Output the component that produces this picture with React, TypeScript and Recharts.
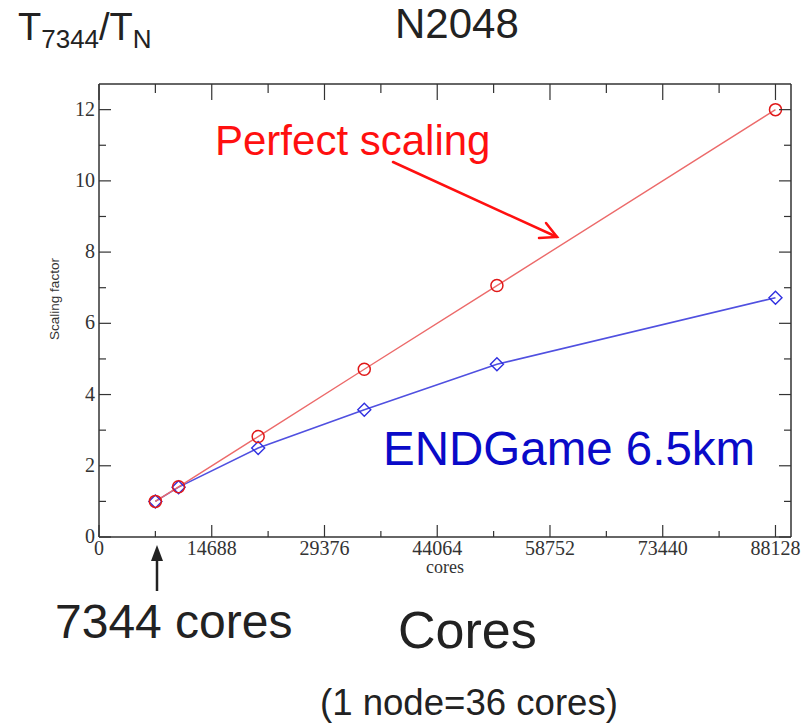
import React from "react";
import { LineChart, Line, XAxis, YAxis } from "recharts";

// cores vs scaling factor (T7344 / TN), N2048 run
const cores = [7344, 10368, 20736, 34560, 51840, 88128];
const perfect = [1, 1.41, 2.82, 4.71, 7.06, 12];
const endgame = [1, 1.4, 2.5, 3.57, 4.85, 6.72];

const xMajor = [0, 14688, 29376, 44064, 58752, 73440, 88128];
const xMinor = [7344, 22032, 36720, 51408, 66096, 80784];
const yMajor = [0, 2, 4, 6, 8, 10, 12];
const yMinor = [1, 3, 5, 7, 9, 11];

const data = cores.map((c, i) => ({ cores: c, perfect: perfect[i], endgame: endgame[i] }));

const xTicks = [...xMajor, ...xMinor].sort((a, b) => a - b);
const yTicks = [...yMajor, ...yMinor].sort((a, b) => a - b);

const X_DOMAIN = [0, 90150];
const Y_DOMAIN = [0, 12.72];
const FRAME = "#333";
const FONT = { fontFamily: "Liberation Serif", fontSize: 20, fill: "#333" };

// ticks point into the plot, like the original xmgrace frame
const BottomTick = (p: any) => {
  const v = p.payload.value;
  const major = xMajor.includes(v);
  return (
    <g>
      <line x1={p.x} x2={p.x} y1={p.y} y2={p.y - (major ? 12 : 6)} stroke={FRAME} strokeWidth={1.2} />
      {major && (
        <text x={p.x} y={p.y + 18} textAnchor="middle" {...FONT}>
          {v}
        </text>
      )}
    </g>
  );
};

const LeftTick = (p: any) => {
  const v = p.payload.value;
  const major = yMajor.includes(v);
  return (
    <g>
      <line x1={p.x} x2={p.x + (major ? 12 : 7)} y1={p.y} y2={p.y} stroke={FRAME} strokeWidth={1.2} />
      {major && (
        <text x={p.x - 4} y={p.y + 6} textAnchor="end" {...FONT}>
          {v}
        </text>
      )}
    </g>
  );
};

const TopTick = (p: any) => {
  const major = xMajor.includes(p.payload.value);
  return <line x1={p.x} x2={p.x} y1={p.y} y2={p.y + (major ? 16 : 9)} stroke={FRAME} strokeWidth={1.2} />;
};

const RightTick = (p: any) => {
  const major = yMajor.includes(p.payload.value);
  return <line x1={p.x} x2={p.x - (major ? 12 : 7)} y1={p.y} y2={p.y} stroke={FRAME} strokeWidth={1.2} />;
};

const Circle = (props: any) => {
  const { cx, cy, index } = props;
  return <circle key={"c" + index} cx={cx} cy={cy} r={6} fill="none" stroke="#e01818" strokeWidth={1.5} />;
};

const Diamond = (props: any) => {
  const { cx, cy, index } = props;
  const s = 6.5;
  return (
    <polygon
      key={"d" + index}
      points={`${cx},${cy - s} ${cx + s},${cy} ${cx},${cy + s} ${cx - s},${cy}`}
      fill="none"
      stroke="#3030e0"
      strokeWidth={1.4}
    />
  );
};

const axisLine = { stroke: FRAME, strokeWidth: 1.5 };

export default function App() {
  return (
    <div style={{ position: "absolute", left: 0, top: 0, width: 808, height: 723, background: "#fff" }}>
      <LineChart width={808} height={723} data={data} margin={{ top: 83, right: 16, left: 39, bottom: 146 }}>
        <XAxis
          xAxisId="x"
          dataKey="cores"
          type="number"
          domain={X_DOMAIN}
          allowDataOverflow
          ticks={xTicks}
          interval={0}
          height={40}
          tickSize={0}
          tickMargin={0}
          tick={BottomTick}
          axisLine={axisLine}
          tickLine={false}
          label={{
            value: "cores",
            position: "insideBottom",
            offset: 4,
            style: { fontFamily: "Liberation Serif", fontSize: 18, fill: "#333" },
          }}
        />
        <YAxis
          yAxisId="y"
          type="number"
          domain={Y_DOMAIN}
          allowDataOverflow
          ticks={yTicks}
          interval={0}
          width={60}
          tickSize={0}
          tickMargin={0}
          tick={LeftTick}
          axisLine={axisLine}
          tickLine={false}
        />
        <XAxis
          xAxisId="top"
          orientation="top"
          dataKey="cores"
          type="number"
          domain={X_DOMAIN}
          allowDataOverflow
          ticks={xTicks}
          interval={0}
          height={1}
          tickSize={0}
          tickMargin={0}
          tick={TopTick}
          axisLine={axisLine}
          tickLine={false}
        />
        <YAxis
          yAxisId="right"
          orientation="right"
          type="number"
          domain={Y_DOMAIN}
          allowDataOverflow
          ticks={yTicks}
          interval={0}
          width={1}
          tickSize={0}
          tickMargin={0}
          tick={RightTick}
          axisLine={axisLine}
          tickLine={false}
        />

        {/* carries the top / right frame axes, not drawn */}
        <Line xAxisId="top" yAxisId="right" dataKey="perfect" stroke="none" dot={false} isAnimationActive={false} />

        <Line
          xAxisId="x"
          yAxisId="y"
          type="linear"
          dataKey="endgame"
          stroke="#5050e0"
          strokeWidth={1.6}
          dot={Diamond}
          isAnimationActive={false}
        />
        <Line
          xAxisId="x"
          yAxisId="y"
          type="linear"
          dataKey="perfect"
          stroke="#ec6a6a"
          strokeWidth={1.4}
          dot={Circle}
          isAnimationActive={false}
        />
      </LineChart>

      {/* annotations */}
      <svg width={808} height={723} style={{ position: "absolute", left: 0, top: 0, pointerEvents: "none" }}>
        <g fontFamily="Liberation Sans" fill="#222">
          <text x={18} y={40} fontSize={38}>
            T<tspan fontSize={26} dy={8}>7344</tspan>
            <tspan fontSize={38} dy={-8}>/T</tspan>
            <tspan fontSize={26} dy={8}>N</tspan>
          </text>
          <text x={395} y={38} fontSize={42}>N2048</text>
          <text x={55} y={638} fontSize={48}>7344 cores</text>
          <text x={398} y={648} fontSize={52}>Cores</text>
          <text x={320} y={715} fontSize={36.6}>(1 node=36 cores)</text>
        </g>
        <text x={215} y={155} fontSize={42} fontFamily="Liberation Sans" fill="#ff1010">Perfect scaling</text>
        <text x={383} y={465} fontSize={47.5} fontFamily="Liberation Sans" fill="#0a0ac8">ENDGame 6.5km</text>
        <text x={59} y={299} fontSize={13.5} fontFamily="Liberation Sans" fill="#333" transform="rotate(-90 59 299)" textAnchor="middle">
          Scaling factor
        </text>

        <g stroke="#ff1010" strokeWidth={2.5} fill="none" strokeLinecap="round">
          <line x1={393} y1={162} x2={557} y2={237} />
          <polyline points="546,223 557,237 539,238" />
        </g>
        <line x1={157} y1={591} x2={157} y2={558} stroke="#222" strokeWidth={2.5} />
        <polygon points="157,545 163,561 151,561" fill="#222" />
      </svg>
    </div>
  );
}
